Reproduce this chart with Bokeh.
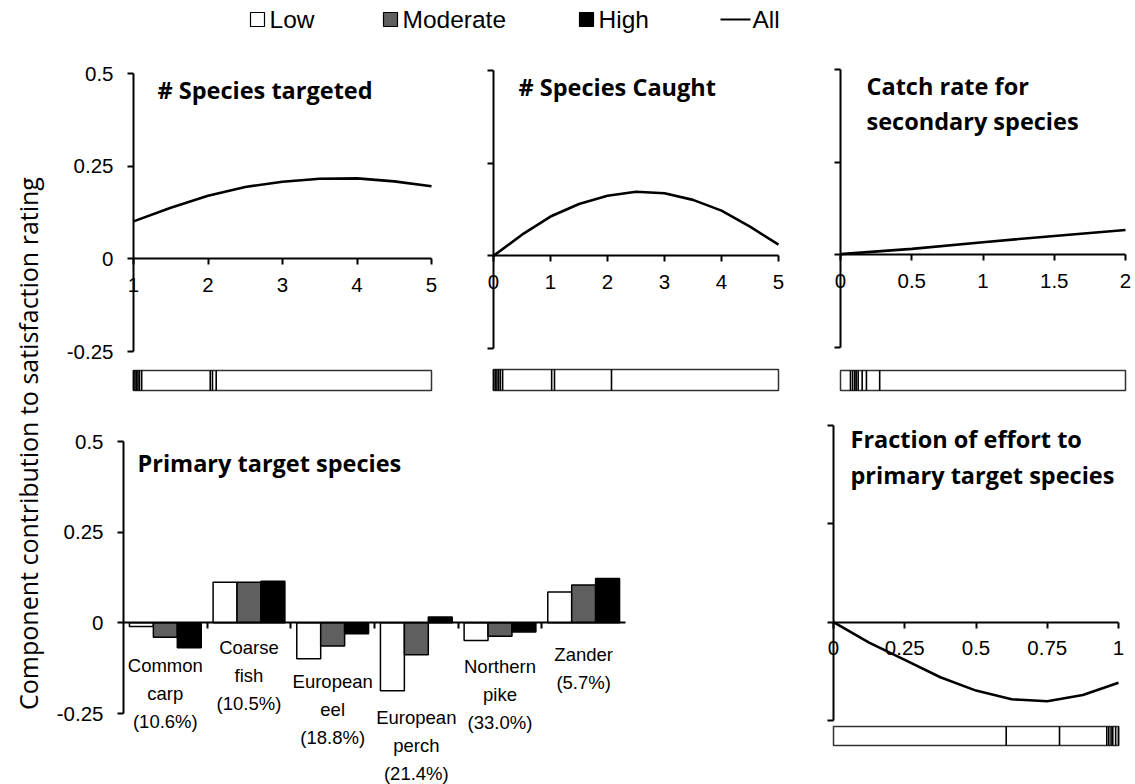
import math

from bokeh.core.properties import value
from bokeh.embed import file_html
from bokeh.layouts import column, row
from bokeh.models import CustomJSTickFormatter, FixedTicker, LinearAxis, Range1d
from bokeh.plotting import figure
from bokeh.resources import INLINE

# ---------------------------------------------------------------- data
# Partial effects ("All" anglers) of each continuous attribute
targeted_x = [1, 1.5, 2, 2.5, 3, 3.5, 4, 4.5, 5]
targeted_y = [0.101, 0.138, 0.170, 0.194, 0.208, 0.216, 0.217, 0.209, 0.196]
targeted_rug = [1.0, 1.02, 1.04, 1.06, 1.08, 1.11, 2.03, 2.06, 2.11]

caught_x = [0, 0.5, 1, 1.5, 2, 2.5, 3, 3.5, 4, 4.5, 5]
caught_y = [0.0, 0.057, 0.106, 0.140, 0.162, 0.173, 0.169, 0.151, 0.122, 0.079, 0.030]
caught_rug = [0.0, 0.03, 0.06, 0.09, 0.12, 0.16, 1.02, 1.07, 2.07]

secondary_x = [0, 0.5, 1, 1.5, 2]
secondary_y = [0.002, 0.016, 0.034, 0.051, 0.067]
secondary_rug = [0.07, 0.085, 0.10, 0.11, 0.124, 0.152, 0.182, 0.275]

fraction_x = [0, 0.125, 0.25, 0.375, 0.5, 0.625, 0.75, 0.875, 1]
fraction_y = [0.0, -0.052, -0.096, -0.140, -0.174, -0.196, -0.201, -0.185, -0.154]
fraction_rug = [0.606, 0.793, 0.959, 0.966, 0.974, 0.98, 0.99, 1.0]

# Primary target species, by angler specialisation level
species = ["Common carp", "Coarse fish", "European eel", "European perch",
           "Northern pike", "Zander"]
species_share = [10.6, 10.5, 18.8, 21.4, 33.0, 5.7]
low = [-0.010, 0.112, -0.099, -0.187, -0.049, 0.085]
moderate = [-0.040, 0.112, -0.064, -0.088, -0.037, 0.104]
high = [-0.069, 0.115, -0.030, 0.016, -0.025, 0.122]

levels = ["Low", "Moderate", "High"]
level_values = [low, moderate, high]
level_colors = ["white", "#5f5f5f", "black"]
y_ticks = [-0.25, 0, 0.25, 0.5]

# ---------------------------------------------------------------- styling
TICK_FONT = "Liberation Sans"
TITLE_FONT = "Open Sans"
LINE_W = 2.6

show_tick = CustomJSTickFormatter(code="return String(tick)")
hide_tick = CustomJSTickFormatter(code="return ''")


class Panel:
    """A figure whose frame fills its whole box; page-pixel anchors fix the scales."""

    def __init__(self, box, x_anchor, y_anchor):
        left, top, w, h = box
        (px0, vx0), (px1, vx1) = x_anchor
        (py0, vy0), (py1, vy1) = y_anchor
        self.sx = (vx1 - vx0) / (px1 - px0)
        self.sy = (vy1 - vy0) / (py1 - py0)
        self.px0, self.vx0, self.py0, self.vy0 = px0, vx0, py0, vy0
        xr = (self.x(left), self.x(left + w))
        yr = (self.y(top + h), self.y(top))
        p = figure(width=w, height=h, x_range=Range1d(*xr), y_range=Range1d(*yr),
                   x_axis_type=None, y_axis_type=None, toolbar_location=None,
                   output_backend="svg", min_border=0)
        p.min_border_left = p.min_border_right = 0
        p.min_border_top = p.min_border_bottom = 0
        p.outline_line_color = None
        self.p = p

    def x(self, px):
        return self.vx0 + (px - self.px0) * self.sx

    def y(self, py):
        return self.vy0 + (py - self.py0) * self.sy


def style_axis(ax):
    ax.axis_line_width = 2
    ax.axis_line_color = "black"
    ax.major_tick_line_width = 2
    ax.major_tick_line_color = "black"
    ax.major_tick_out = 6
    ax.major_tick_in = 0
    ax.minor_tick_out = 0
    ax.minor_tick_in = 0
    ax.major_label_text_font = TICK_FONT
    ax.major_label_text_font_size = "20.5px"
    ax.major_label_text_color = "black"


def add_axes(p, x_ticks, x_bounds, y_at, y_labels, x_labels=True):
    xa = LinearAxis(fixed_location=0, bounds=x_bounds,
                    ticker=FixedTicker(ticks=x_ticks, minor_ticks=[]),
                    formatter=show_tick if x_labels else hide_tick)
    style_axis(xa)
    xa.major_label_standoff = 13
    p.add_layout(xa, "below")
    ya = LinearAxis(fixed_location=y_at, bounds=(-0.25, 0.5),
                    ticker=FixedTicker(ticks=y_ticks, minor_ticks=[]),
                    formatter=show_tick if y_labels else hide_tick)
    style_axis(ya)
    ya.major_label_standoff = 14
    p.add_layout(ya, "left")


def add_title(pan, left_px, baselines_px, lines):
    pan.p.text(x=[pan.x(left_px)] * len(lines), y=[pan.y(b) for b in baselines_px],
               text=lines, text_font=value(TITLE_FONT), text_font_style="bold",
               text_font_size="23.5px", text_color="black", text_baseline="alphabetic")


def add_rug(pan, xr, vals, top_px, bottom_px):
    y0, y1 = pan.y(bottom_px), pan.y(top_px)
    pan.p.quad(left=[xr[0]], right=[xr[1]], bottom=[y0], top=[y1],
               fill_color="white", line_color="#333333", line_width=1.5)
    pan.p.segment(x0=vals, x1=vals, y0=[y0] * len(vals), y1=[y1] * len(vals),
                  line_color="black", line_width=1.6)


LEFT = 46  # width of the strip holding the shared y-axis title

# ---------------------------------------------------------------- top row
a1 = Panel((LEFT, 45, 470 - LEFT, 355), ((133, 1), (431, 5)), ((73, 0.5), (351, -0.25)))
add_axes(a1.p, [1, 2, 3, 4, 5], (1, 5), 1, True)
a1.p.line(targeted_x, targeted_y, line_color="black", line_width=LINE_W)
add_rug(a1, (1, 5), targeted_rug, 370, 390)
add_title(a1, 157, [89], ["# Species targeted"])

a2 = Panel((470, 45, 345, 355), ((493, 0), (778, 5)), ((70, 0.5), (348, -0.25)))
add_axes(a2.p, [0, 1, 2, 3, 4, 5], (0, 5), 0, False)
a2.p.line(caught_x, caught_y, line_color="black", line_width=LINE_W)
add_rug(a2, (0, 5), caught_rug, 369, 390)
add_title(a2, 518, [86], ["# Species Caught"])

a3 = Panel((815, 45, 320, 355), ((840, 0), (1125, 2)), ((69, 0.5), (347, -0.25)))
add_axes(a3.p, [0, 0.5, 1, 1.5, 2], (0, 2), 0, False)
a3.p.line(secondary_x, secondary_y, line_color="black", line_width=LINE_W)
add_rug(a3, (0, 2), secondary_rug, 370, 390)
add_title(a3, 866, [85, 120], ["Catch rate for", "secondary species"])

# ---------------------------------------------------------------- bottom row
n_cat = len(species)
a4 = Panel((LEFT, 400, 800 - LEFT, 384), ((123, 0), (625, n_cat)), ((441, 0.5), (713, -0.25)))
p4 = a4.p
add_axes(p4, list(range(1, n_cat)), (0, n_cat), 0, True, x_labels=False)
bar_w = 0.286
for j, (vals, col) in enumerate(zip(level_values, level_colors)):
    xs = [i + 0.5 + (j - 1) * bar_w for i in range(n_cat)]
    p4.vbar(x=xs, top=vals, bottom=0, width=bar_w, fill_color=col,
            line_color="black", line_width=1.5)
cat_text = ["\n".join(name.split()) + f"\n({share:.1f}%)"
            for name, share in zip(species, species_share)]
label_top_px = [654, 636, 670, 706, 655, 643]
p4.text(x=[i + 0.5 for i in range(n_cat)], y=[a4.y(v) for v in label_top_px],
        text=cat_text, text_font=value(TICK_FONT), text_font_size="18.5px",
        text_color="black", text_align="center", text_baseline="top",
        text_line_height=1.35)
add_title(a4, 137, [462], ["Primary target species"])

a5 = Panel((800, 400, 335, 384), ((833, 0), (1118, 1)), ((425, 0.5), (720, -0.25)))
add_axes(a5.p, [0, 0.25, 0.5, 0.75, 1], (0, 1), 0, False)
a5.p.line(fraction_x, fraction_y, line_color="black", line_width=LINE_W)
add_rug(a5, (0, 1), fraction_rug, 726, 745)
add_title(a5, 850, [438, 474], ["Fraction of effort to", "primary target species"])

# ---------------------------------------------------------------- shared y title
ylab = figure(width=LEFT, height=739, x_range=Range1d(0, LEFT), y_range=Range1d(739, 0),
              x_axis_type=None, y_axis_type=None, toolbar_location=None,
              output_backend="svg", min_border=0)
ylab.outline_line_color = None
ylab.text(x=[27], y=[398], text=["Component contribution to satisfaction rating"],
          angle=math.pi / 2, text_font=value(TITLE_FONT), text_font_size="25px",
          text_color="black", text_align="center", text_baseline="middle")

# ---------------------------------------------------------------- legend strip
leg = figure(width=1135, height=45, x_range=Range1d(0, 1135), y_range=Range1d(45, 0),
             x_axis_type=None, y_axis_type=None, toolbar_location=None,
             output_backend="svg", min_border=0)
leg.outline_line_color = None
box_x = [257, 390, 586]
text_x = [269, 402, 598]
leg.scatter(x=box_x, y=[19] * 3, marker="square", size=14, fill_color=level_colors,
            line_color="black", line_width=1.2)
leg.segment(x0=[720], x1=[750], y0=[19], y1=[19], line_color="black", line_width=2)
leg.text(x=text_x + [752], y=[19] * 4, text=levels + ["All"],
         text_font=value(TICK_FONT), text_font_size="24.5px", text_color="black",
         text_baseline="middle")

layout = column(
    leg,
    row(ylab, column(row(a1.p, a2.p, a3.p, spacing=0), row(a4.p, a5.p, spacing=0),
                     spacing=0), spacing=0),
    spacing=0,
)

open("out.html", "w").write(file_html(layout, INLINE))
